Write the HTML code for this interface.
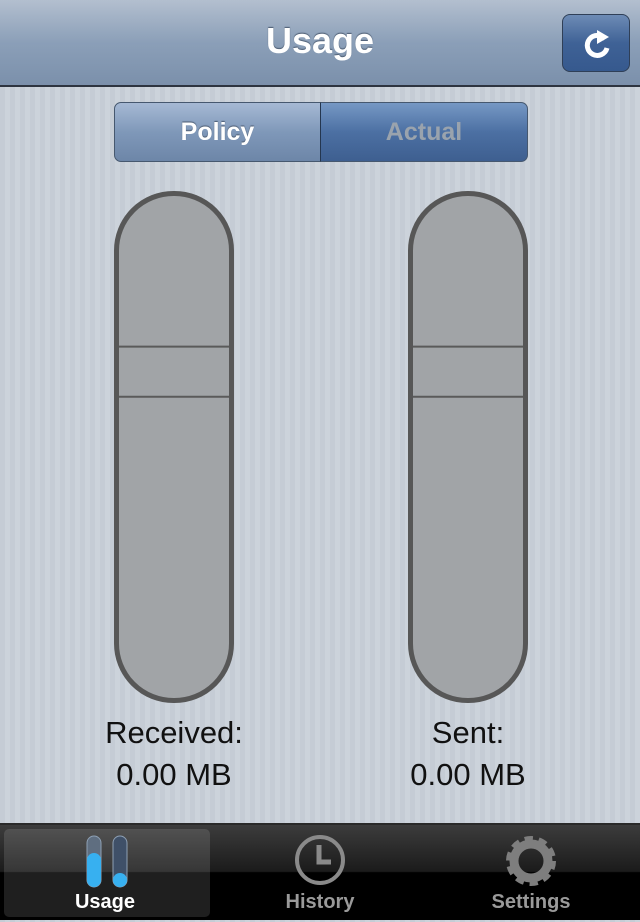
<!DOCTYPE html>
<html><head><meta charset="utf-8"><style>
*{margin:0;padding:0;box-sizing:border-box}
body{width:640px;height:920px;overflow:hidden;font-family:"Liberation Sans",sans-serif;position:relative;
background:repeating-linear-gradient(90deg,#c5ccd5 0 5px,#ccd3db 5px 10px)}
.nav{position:absolute;left:0;top:0;width:640px;height:87px;background:linear-gradient(#b3bfcf,#8b9fb8 50%,#7b90ab);border-bottom:2px solid #2d3440}
.title{position:absolute;left:0;width:640px;top:20px;text-align:center;color:#fff;font-weight:bold;font-size:36px;text-shadow:0 -1px 1px #4a5a70}
.refresh{position:absolute;left:562px;top:14px;width:68px;height:58px;border-radius:8px;border:1px solid #2f3f57;background:linear-gradient(#6d8bb5,#3f6296 50%,#36598e)}
.seg{position:absolute;top:102px;height:60px;border:1px solid #46586f;font-weight:bold;font-size:25px;text-align:center;line-height:58px}
.tabbar{position:absolute;left:0;top:823px;width:640px;height:97px;background:linear-gradient(#3c3c3c,#1b1b1b 49%,#000 50%);border-top:2px solid #2a2a2a}
.tab{position:absolute;top:66px;font-weight:bold;font-size:20px;color:#9a9a9a;text-align:center;width:210px}
.lbl{position:absolute;width:260px;text-align:center;font-size:31px;color:#111}
</style></head><body>
<div class="nav">
<div class="title">Usage</div>
<div class="refresh">
<svg width="68" height="58" viewBox="0 0 68 58"><path d="M42 24 A10 10 0 1 0 44 33" fill="none" stroke="#fff" stroke-width="5"/><polygon points="34,15 46,22 34,29" fill="#fff"/></svg></div>
</div>
<div class="seg" style="left:114px;width:207px;border-radius:7px 0 0 7px;background:linear-gradient(#a6b9d4,#7f98b9 50%,#6d86a8);color:#fff;text-shadow:0 -1px 1px #4a5a70">Policy</div>
<div class="seg" style="left:320px;width:208px;border-radius:0 7px 7px 0;background:linear-gradient(#7698c4,#4c70a3 50%,#3e5f90);color:#9aa3ad;border-left:1px solid #24364f">Actual</div>
<svg id="chart" width="640" height="720" style="position:absolute;left:0;top:100px"></svg>
<div class="lbl" style="left:44px;top:715px">Received:</div>
<div class="lbl" style="left:44px;top:757px">0.00 MB</div>
<div class="lbl" style="left:338px;top:715px">Sent:</div>
<div class="lbl" style="left:338px;top:757px">0.00 MB</div>
<div class="tabbar">
<div style="position:absolute;left:4px;top:4px;width:206px;height:88px;border-radius:5px;background:rgba(255,255,255,0.12)">
<svg width="206" height="66" style="position:absolute;left:0;top:0"><rect x="83" y="7" width="14" height="51" rx="7" fill="#5f6e80" stroke="#8ea0b4"/><rect x="83" y="24" width="14" height="34" rx="7" fill="#37b0f0"/><rect x="109" y="7" width="14" height="51" rx="7" fill="#3f5068" stroke="#8ea0b4"/><rect x="109" y="44" width="14" height="14" rx="7" fill="#37b0f0"/></svg>
<div class="tab" style="left:-2px;top:62px;width:206px;color:#fff">Usage</div></div>
<div style="position:absolute;left:215px;top:0;width:210px;height:97px">
<svg width="210" height="66"><circle cx="105" cy="35" r="23" fill="none" stroke="#8a8a8a" stroke-width="4"/><path d="M104 20 V37 H116" fill="none" stroke="#8a8a8a" stroke-width="5"/></svg>
<div class="tab" style="left:0">History</div></div>
<div style="position:absolute;left:426px;top:0;width:210px;height:97px">
<svg width="210" height="66"><circle cx="105" cy="36" r="19" fill="none" stroke="#7e7e7e" stroke-width="12" stroke-dasharray="7 5"/><circle cx="105" cy="36" r="17" fill="none" stroke="#7e7e7e" stroke-width="9"/></svg>
<div class="tab" style="left:0">Settings</div></div>
</div>
<script>
const categories=["Received","Sent"];
const values=[0,0];
const maxValue=[100,100];
const markerHigh=[0.70,0.70];
const markerLow=[0.60,0.60];
const ns="http://www.w3.org/2000/svg";
const svg=document.getElementById('chart');
const tubeX=i=>114+i*294, tubeW=120, tubeTop=91, tubeBot=603;
const yPos=(f)=>tubeBot-5-f*(tubeBot-tubeTop-10);
function mk(t,a){const e=document.createElementNS(ns,t);for(const k in a)e.setAttribute(k,a[k]);svg.appendChild(e);return e;}
categories.forEach((c,i)=>{
 const x=tubeX(i);
 const t=mk('rect',{x:x+2.5,y:tubeTop+2.5,width:tubeW-5,height:tubeBot-tubeTop-5,rx:57,fill:'#a1a4a7',stroke:'#575757','stroke-width':5});
 
 
 const f=values[i]/maxValue[i];
 if(f>0){const r=mk('rect',{x:x+5,y:yPos(f),width:tubeW-10,height:tubeBot-5-yPos(f),rx:55,fill:'#37b0f0'});
 
 }
 [markerHigh[i],markerLow[i]].forEach(m=>{
  const l=mk('line',{x1:x+5,x2:x+tubeW-5,y1:yPos(m),y2:yPos(m),stroke:'#5a5a5a','stroke-width':2});
  
  
 });
});
</script>
</body></html>
